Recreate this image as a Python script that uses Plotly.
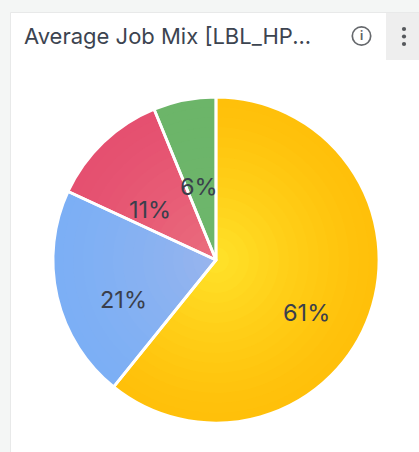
import math
import plotly.graph_objects as go

W, H = 419, 452
labels = ["A", "B", "C", "D"]
values = [60.8, 21.1, 11.9, 6.2]
pct_text = ["61%", "21%", "11%", "6%"]
edge_colors = [(255, 192, 10), (124, 175, 245), (229, 80, 112), (108, 181, 105)]
center_colors = [(255, 224, 40), (150, 180, 238), (234, 108, 125), (110, 182, 108)]
title = "Average Job Mix [LBL_HP..."
# label placement: radius as share of pie radius, and angular nudge in degrees
label_radius = [0.64, 0.62, 0.51, 0.46]
label_nudge = [10.6, -10, -9, -2]

PIE_L, PIE_R, PIE_T, PIE_B = 53, 379, 97, 423
cx, cy, rad = (PIE_L + PIE_R) / 2, (PIE_T + PIE_B) / 2, (PIE_R - PIE_L) / 2


def fx(p):
    return p / W


def fy(p):
    return 1 - p / H


def mix(a, b, t):
    return "rgb(%d,%d,%d)" % tuple(round(a[i] + (b[i] - a[i]) * t) for i in range(3))


fig = go.Figure()
N = 16
for k in range(N):
    t = k / (N - 1)
    r = rad * (1 - t * 0.92)
    fig.add_trace(go.Pie(
        labels=labels, values=values, sort=False, direction="clockwise", rotation=0,
        domain=dict(x=[fx(cx - r), fx(cx + r)], y=[fy(cy + r), fy(cy - r)]),
        marker=dict(colors=[mix(e, c, t ** 1.3) for e, c in zip(edge_colors, center_colors)],
                    line=dict(width=0)),
        textinfo="none", hoverinfo="skip", showlegend=False,
    ))
fig.add_trace(go.Pie(
    labels=labels, values=values, sort=False, direction="clockwise", rotation=0,
    domain=dict(x=[fx(PIE_L), fx(PIE_R)], y=[fy(PIE_B), fy(PIE_T)]),
    marker=dict(colors=["rgba(0,0,0,0)"] * 4, line=dict(color="white", width=2.8)),
    textinfo="none", hoverinfo="skip", showlegend=False,
))

annotations = []
cum = 0
total = sum(values)
for v, txt, lr, nudge in zip(values, pct_text, label_radius, label_nudge):
    ang = math.radians((cum + v / 2) / total * 360 + nudge)
    cum += v
    annotations.append(dict(
        x=fx(cx + lr * rad * math.sin(ang)), y=fy(cy - lr * rad * math.cos(ang)),
        xref="paper", yref="paper", text=txt, showarrow=False, xanchor="center", yanchor="middle",
        font=dict(family="Inter", size=23.5, color="#3a3f4c"),
    ))
annotations.append(dict(
    x=fx(22), y=fy(36), xref="paper", yref="paper", text=title, showarrow=False,
    xanchor="left", yanchor="middle", font=dict(family="Inter", size=22, color="#3c4450"),
))
annotations.append(dict(
    x=fx(361.5), y=fy(36), xref="paper", yref="paper", text="<b>i</b>", showarrow=False,
    xanchor="center", yanchor="middle", font=dict(family="Roboto", size=12, color="#5f6368"),
))


def rect(x0, y0, x1, y1, fill, line=None):
    return dict(type="rect", xref="paper", yref="paper", layer="below",
                x0=fx(x0), x1=fx(x1), y0=fy(y1), y1=fy(y0), fillcolor=fill,
                line=dict(color=line or fill, width=1 if line else 0))


def circ(x, y, r, fill, line=None, lw=0, layer="above"):
    return dict(type="circle", xref="paper", yref="paper", layer=layer,
                x0=fx(x - r), x1=fx(x + r), y0=fy(y + r), y1=fy(y - r),
                fillcolor=fill, line=dict(color=line or fill, width=lw))


shapes = [
    rect(10.5, 12.5, 425, 460, "#ffffff", "#e8e9e9"),
    rect(386, 13, 419, 60, "#eeeeee"),
    circ(361.5, 36, 9.2, "rgba(0,0,0,0)", "#66696d", 1.7),
    circ(404, 29, 2.1, "#55585c"),
    circ(404, 36.5, 2.1, "#55585c"),
    circ(404, 44, 2.1, "#55585c"),
]

fig.update_layout(
    width=W, height=H, margin=dict(l=0, r=0, t=0, b=0),
    paper_bgcolor="#f4f6f5", plot_bgcolor="rgba(0,0,0,0)",
    annotations=annotations, shapes=shapes, showlegend=False,
)
fig.write_html(
    "out.html",
    config=dict(displayModeBar=False),
    post_script="document.body.style.margin='0';document.documentElement.style.overflow='hidden';",
)
